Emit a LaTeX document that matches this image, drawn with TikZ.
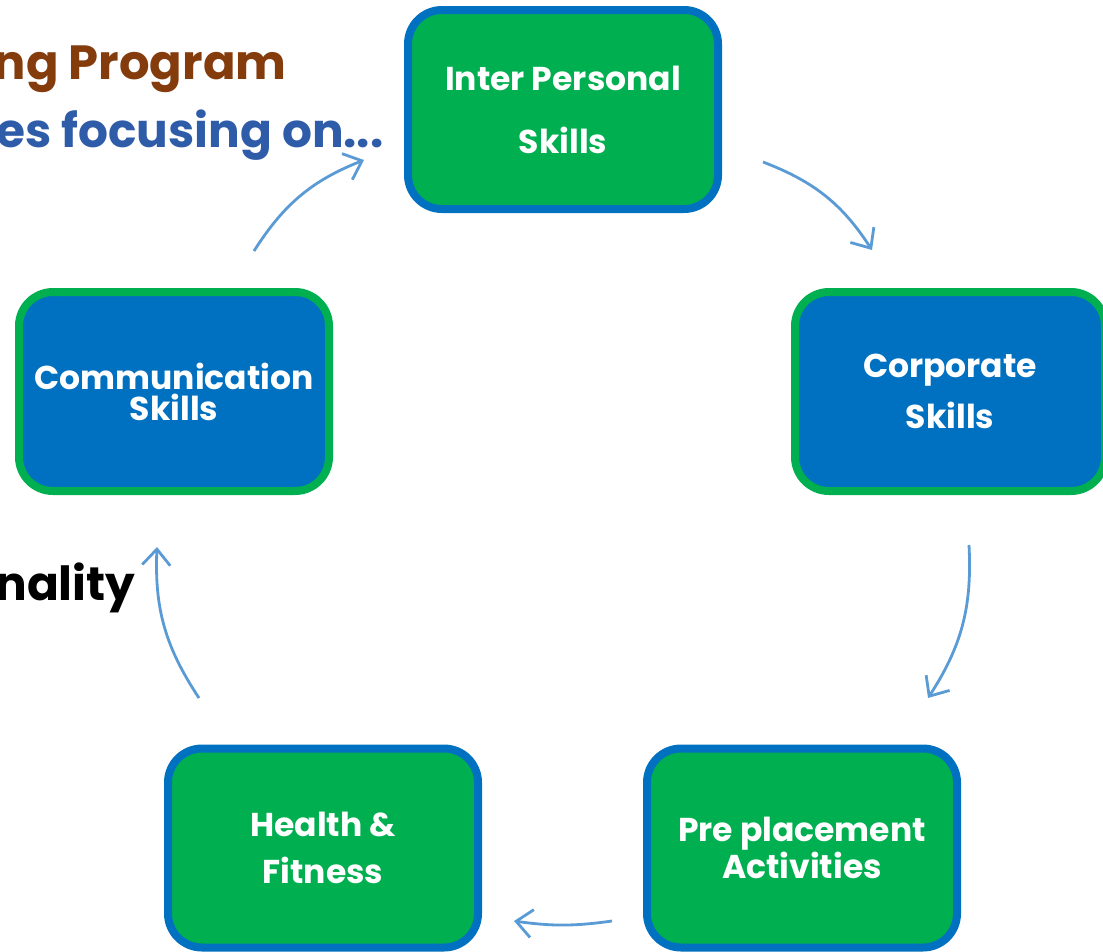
\documentclass[tikz,border=0pt]{standalone}
\usepackage{fontspec}
\setmainfont{Poppins}
\usetikzlibrary{arrows.meta}

\definecolor{skillGreen}{HTML}{00B050}
\definecolor{skillBlue}{HTML}{0070C0}
\definecolor{arrowBlue}{HTML}{5B9BD5}
\definecolor{titleBrown}{HTML}{843C0C}
\definecolor{titleBlue}{HTML}{2E5CA8}

\begin{document}
\begin{tikzpicture}[x=1pt, y=-1pt]
		\tikzstyle{skill}=[rectangle, rounded corners=34pt, line width=8pt,
			minimum width=310pt, minimum height=199pt, text=white, align=center,
			font=\fontsize{33}{31}\selectfont\bfseries]
		\tikzstyle{greenbox}=[skill, fill=skillGreen, draw=skillBlue]
		\tikzstyle{bluebox}=[skill, fill=skillBlue, draw=skillGreen]
		\tikzstyle{cycle}=[draw=arrowBlue, line width=2.8pt, bend left=18,
			-{Straight Barb[length=16pt, width=28pt, line width=2.8pt]}]

		\useasboundingbox (0,0) rectangle (1103,951);
		\clip (0,0) rectangle (1103,951);

		% title lines, cut off at the left edge
		\node[anchor=base east, text=titleBrown, font=\fontsize{48}{52}\selectfont\bfseries]
		(titleTop) at (290,79) {ng Program};
		\node[anchor=base east, text=titleBlue, font=\fontsize{47}{52}\selectfont\bfseries]
		(titleMid) at (387,147) {es focusing on...};
		\node[anchor=base east, text=black, font=\fontsize{47}{52}\selectfont\bfseries]
		(titleLow) at (139,600) {nality};

		\node[greenbox] (interPersonal) at (563,109.5) {Inter Personal\\[32pt] Skills};
		\node[bluebox] (corporate) at (950,391.5) {Corporate\\[15pt] Skills};
		\node[greenbox] (prePlacement) at (802,848) {Pre placement\\ Activities};
		\node[greenbox] (health) at (323,848) {Health \&\\[16pt] Fitness};
		\node[bluebox] (communication) at (174,391.5) {Communication\\ Skills};

		\coordinate (outInter) at (763,162);
		\coordinate (inCorporate) at (872,250);
		\coordinate (outCorporate) at (969,545);
		\coordinate (inPre) at (928,698);
		\coordinate (outPre) at (612,921);
		\coordinate (inHealth) at (514,921);
		\coordinate (outHealth) at (199,698);
		\coordinate (inComm) at (157,547);
		\coordinate (outComm) at (254,251);
		\coordinate (inInter) at (364,160);

		\draw[cycle] (outInter) to (inCorporate);
		\draw[cycle] (outCorporate) to (inPre);
		\draw[cycle, bend left=8] (outPre) to (inHealth);
		\draw[cycle] (outHealth) to (inComm);
		\draw[cycle] (outComm) to (inInter);

	\end{tikzpicture}
\end{document}
